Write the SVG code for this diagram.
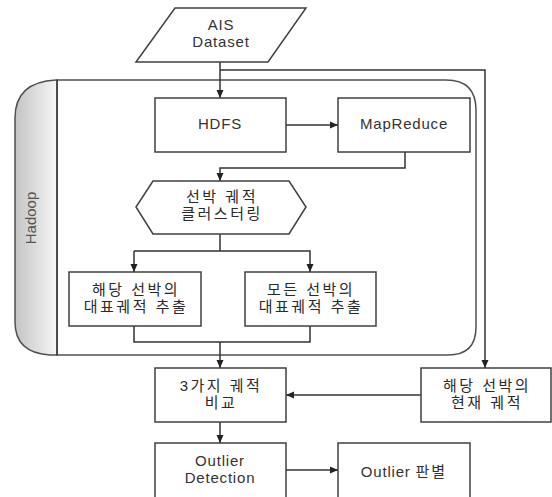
<svg xmlns="http://www.w3.org/2000/svg" width="552" height="497" viewBox="0 0 552 497">
<style>
.box{fill:#fff;stroke:#404040;stroke-width:1.5}
.en{font-family:"Liberation Sans",Arial,sans-serif;font-size:15px;fill:#333;text-anchor:middle;letter-spacing:0.8px}
.ko{font-family:"Liberation Sans","Noto Sans CJK KR",sans-serif;font-size:15px;fill:#2a2a2a;text-anchor:middle;letter-spacing:2.5px}
.ln{fill:none;stroke:#333;stroke-width:1.5}
</style>
<defs>
<marker id="ah" markerWidth="8" markerHeight="8" refX="8" refY="4" orient="auto" markerUnits="userSpaceOnUse">
<path d="M0,0.5 L8,4 L0,7.5 Z" fill="#222"/>
</marker>
<linearGradient id="strip" x1="0" y1="0" x2="1" y2="0">
<stop offset="0" stop-color="#c4c4c4"/>
<stop offset="1" stop-color="#f6f6f6"/>
</linearGradient>
</defs>
<rect width="552" height="497" fill="#fff"/>

<g id="hadoop">
<path d="M57,80 H446 Q476,80 476,110 V327 Q476,355 448,355 H57 Z" fill="#fff" stroke="#505050" stroke-width="1.5"/>
<path d="M57,80 H56 Q15,82 15,118 V322 Q15,353 50,355 H57 Z" fill="url(#strip)" stroke="#505050" stroke-width="1.5"/>
<line x1="57" y1="80" x2="57" y2="355" stroke="#404040" stroke-width="1.5"/>
<text x="32" y="218" transform="rotate(-90 32 218)" font-family="Liberation Sans,Arial,sans-serif" font-size="15" fill="#555" text-anchor="middle" dominant-baseline="middle">Hadoop</text>
</g>

<g id="connectors">
<line class="ln" x1="220" y1="62" x2="220" y2="98" marker-end="url(#ah)"/>
<polyline class="ln" points="220,70 485,70 485,368" marker-end="url(#ah)"/>
<line class="ln" x1="286" y1="125" x2="338" y2="125" marker-end="url(#ah)"/>
<polyline class="ln" points="405,152 405,168 220,168 220,181" marker-end="url(#ah)"/>
<line class="ln" x1="220" y1="234" x2="220" y2="251"/>
<polyline class="ln" points="134,251 310,251 310,272" marker-end="url(#ah)"/>
<line class="ln" x1="134" y1="251" x2="134" y2="272" marker-end="url(#ah)"/>
<polyline class="ln" points="134,326 134,342 310,342 310,326"/>
<line class="ln" x1="220" y1="342" x2="220" y2="368" marker-end="url(#ah)"/>
<line class="ln" x1="421" y1="395" x2="286" y2="395" marker-end="url(#ah)"/>
<line class="ln" x1="220" y1="422" x2="220" y2="443" marker-end="url(#ah)"/>
<line class="ln" x1="286" y1="470" x2="338" y2="470" marker-end="url(#ah)"/>
</g>

<g id="ais">
<polygon class="box" points="175,8 306,8 268,62 136,62"/>
<text class="en" x="221" y="30">AIS</text>
<text class="en" x="221" y="47">Dataset</text>
</g>

<g id="hdfs">
<rect class="box" x="155" y="98" width="131" height="54"/>
<text class="en" x="220" y="129">HDFS</text>
</g>

<g id="mapreduce">
<rect class="box" x="338" y="98" width="132" height="54"/>
<text class="en" x="404" y="129">MapReduce</text>
</g>

<g id="clustering">
<polygon class="box" points="153,181 289,181 306,207 289,234 153,234 136,207"/>
<text class="ko" x="222" y="202">선박 궤적</text>
<text class="ko" x="222" y="219">클러스터링</text>
</g>

<g id="extract-own">
<rect class="box" x="69" y="272" width="132" height="54"/>
<text class="ko" x="136" y="295">해당 선박의</text>
<text class="ko" x="136" y="312">대표궤적 추출</text>
</g>

<g id="extract-all">
<rect class="box" x="245" y="272" width="131" height="54"/>
<text class="ko" x="311" y="295">모든 선박의</text>
<text class="ko" x="311" y="312">대표궤적 추출</text>
</g>

<g id="compare">
<rect class="box" x="155" y="368" width="131" height="54"/>
<text class="ko" x="221" y="391">3가지 궤적</text>
<text class="ko" x="221" y="408">비교</text>
</g>

<g id="current">
<rect class="box" x="421" y="368" width="130" height="54"/>
<text class="ko" x="487" y="391">해당 선박의</text>
<text class="ko" x="487" y="408">현재 궤적</text>
</g>

<g id="detection">
<rect class="box" x="155" y="443" width="131" height="70"/>
<text class="en" x="220" y="466">Outlier</text>
<text class="en" x="220" y="483">Detection</text>
</g>

<g id="judge">
<rect class="box" x="338" y="443" width="132" height="70"/>
<text class="en" x="404" y="477">Outlier <tspan font-family="Noto Sans CJK KR,sans-serif" font-size="15" letter-spacing="2">판별</tspan></text>
</g>
</svg>
